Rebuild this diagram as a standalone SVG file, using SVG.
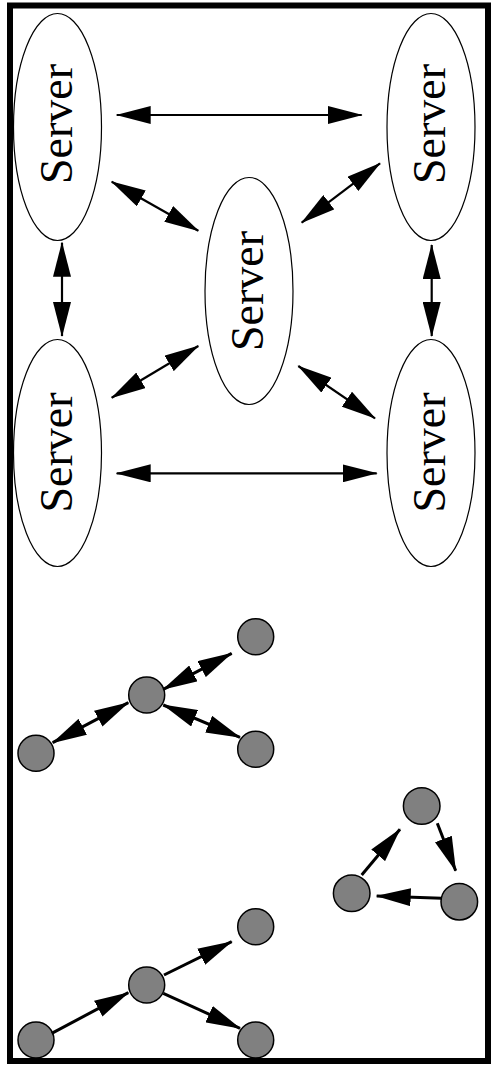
<svg xmlns="http://www.w3.org/2000/svg" width="496" height="1074" viewBox="0 0 496 1074">
<style>
.frame{fill:none;stroke:#000;stroke-width:6}
.srv{fill:#fff;stroke:#000;stroke-width:1.2}
.lbl{font-family:"Liberation Serif","Times New Roman",serif;font-size:46px;fill:#000;text-anchor:middle}
.dot{fill:#808080;stroke:#000;stroke-width:1.5}
.e2{fill:none;stroke:#000;stroke-width:2.2;marker-start:url(#ah);marker-end:url(#ah)}
.e3{fill:none;stroke:#000;stroke-width:3;marker-start:url(#ah);marker-end:url(#ah)}
.e1{fill:none;stroke:#000;stroke-width:3;marker-end:url(#ah)}
</style>
<defs>
<marker id="ah" markerUnits="userSpaceOnUse" markerWidth="35" markerHeight="18" refX="34" refY="9" orient="auto-start-reverse" viewBox="0 0 35 18">
<path d="M0,0 L35,9 L0,18 z" fill="#000"/>
</marker>
</defs>
<rect width="496" height="1074" fill="#fff"/>
<rect class="frame" x="10" y="5.5" width="478" height="1055.5"/>
<g id="server-tl"><ellipse class="srv" cx="57.5" cy="127" rx="44" ry="113.5"/><text class="lbl" transform="translate(71.5,124) rotate(-90)">Server</text></g>
<g id="server-tr"><ellipse class="srv" cx="431" cy="127" rx="44" ry="113.5"/><text class="lbl" transform="translate(445,124) rotate(-90)">Server</text></g>
<g id="server-c"><ellipse class="srv" cx="249" cy="291" rx="44" ry="113.5"/><text class="lbl" transform="translate(263,291) rotate(-90)">Server</text></g>
<g id="server-bl"><ellipse class="srv" cx="57.5" cy="453" rx="44" ry="113.5"/><text class="lbl" transform="translate(71.5,452.5) rotate(-90)">Server</text></g>
<g id="server-br"><ellipse class="srv" cx="431" cy="453" rx="44" ry="113.5"/><text class="lbl" transform="translate(445,452.5) rotate(-90)">Server</text></g>
<g id="g1-c"><circle class="dot" cx="146.7" cy="695" r="18"/></g>
<g id="g1-tr"><circle class="dot" cx="255.7" cy="636.7" r="18"/></g>
<g id="g1-bl"><circle class="dot" cx="36" cy="753.3" r="18"/></g>
<g id="g1-br"><circle class="dot" cx="255.7" cy="749.3" r="18"/></g>
<g id="g2-c"><circle class="dot" cx="146.7" cy="985" r="18"/></g>
<g id="g2-tr"><circle class="dot" cx="255.7" cy="926.7" r="18"/></g>
<g id="g2-bl"><circle class="dot" cx="36" cy="1040" r="18"/></g>
<g id="g2-br"><circle class="dot" cx="255.7" cy="1040" r="18"/></g>
<g id="t-top"><circle class="dot" cx="421.7" cy="806" r="18.3"/></g>
<g id="t-left"><circle class="dot" cx="351.7" cy="893.3" r="18.3"/></g>
<g id="t-right"><circle class="dot" cx="459.3" cy="901.7" r="18.3"/></g>
<g id="connectors">
<line class="e2" x1="116.7" y1="115" x2="361.7" y2="115"/>
<line class="e2" x1="116.7" y1="473.3" x2="376.7" y2="473.3"/>
<line class="e2" x1="62" y1="242.7" x2="62" y2="336"/>
<line class="e2" x1="431.7" y1="245" x2="431.7" y2="336"/>
<line class="e2" x1="111.7" y1="181.7" x2="198.3" y2="230.7"/>
<line class="e2" x1="301.7" y1="222.7" x2="380" y2="163.3"/>
<line class="e2" x1="111.7" y1="397.7" x2="198.3" y2="346"/>
<line class="e2" x1="298.3" y1="366" x2="375" y2="418.3"/>
<line class="e3" x1="163.3" y1="689.3" x2="231.7" y2="653.3"/>
<line class="e3" x1="128.3" y1="702.7" x2="52.7" y2="742.7"/>
<line class="e3" x1="163.3" y1="705" x2="240" y2="737.3"/>
<line class="e1" x1="51.7" y1="1033.3" x2="128.3" y2="992.7"/>
<line class="e1" x1="164" y1="975" x2="231.7" y2="941.7"/>
<line class="e1" x1="163.3" y1="993.3" x2="240" y2="1028.3"/>
<line class="e1" x1="361.7" y1="875" x2="400" y2="829.3"/>
<line class="e1" x1="437.3" y1="823.3" x2="455.7" y2="870.7"/>
<line class="e1" x1="441.7" y1="898.3" x2="376.7" y2="896"/>
</g>
</svg>
